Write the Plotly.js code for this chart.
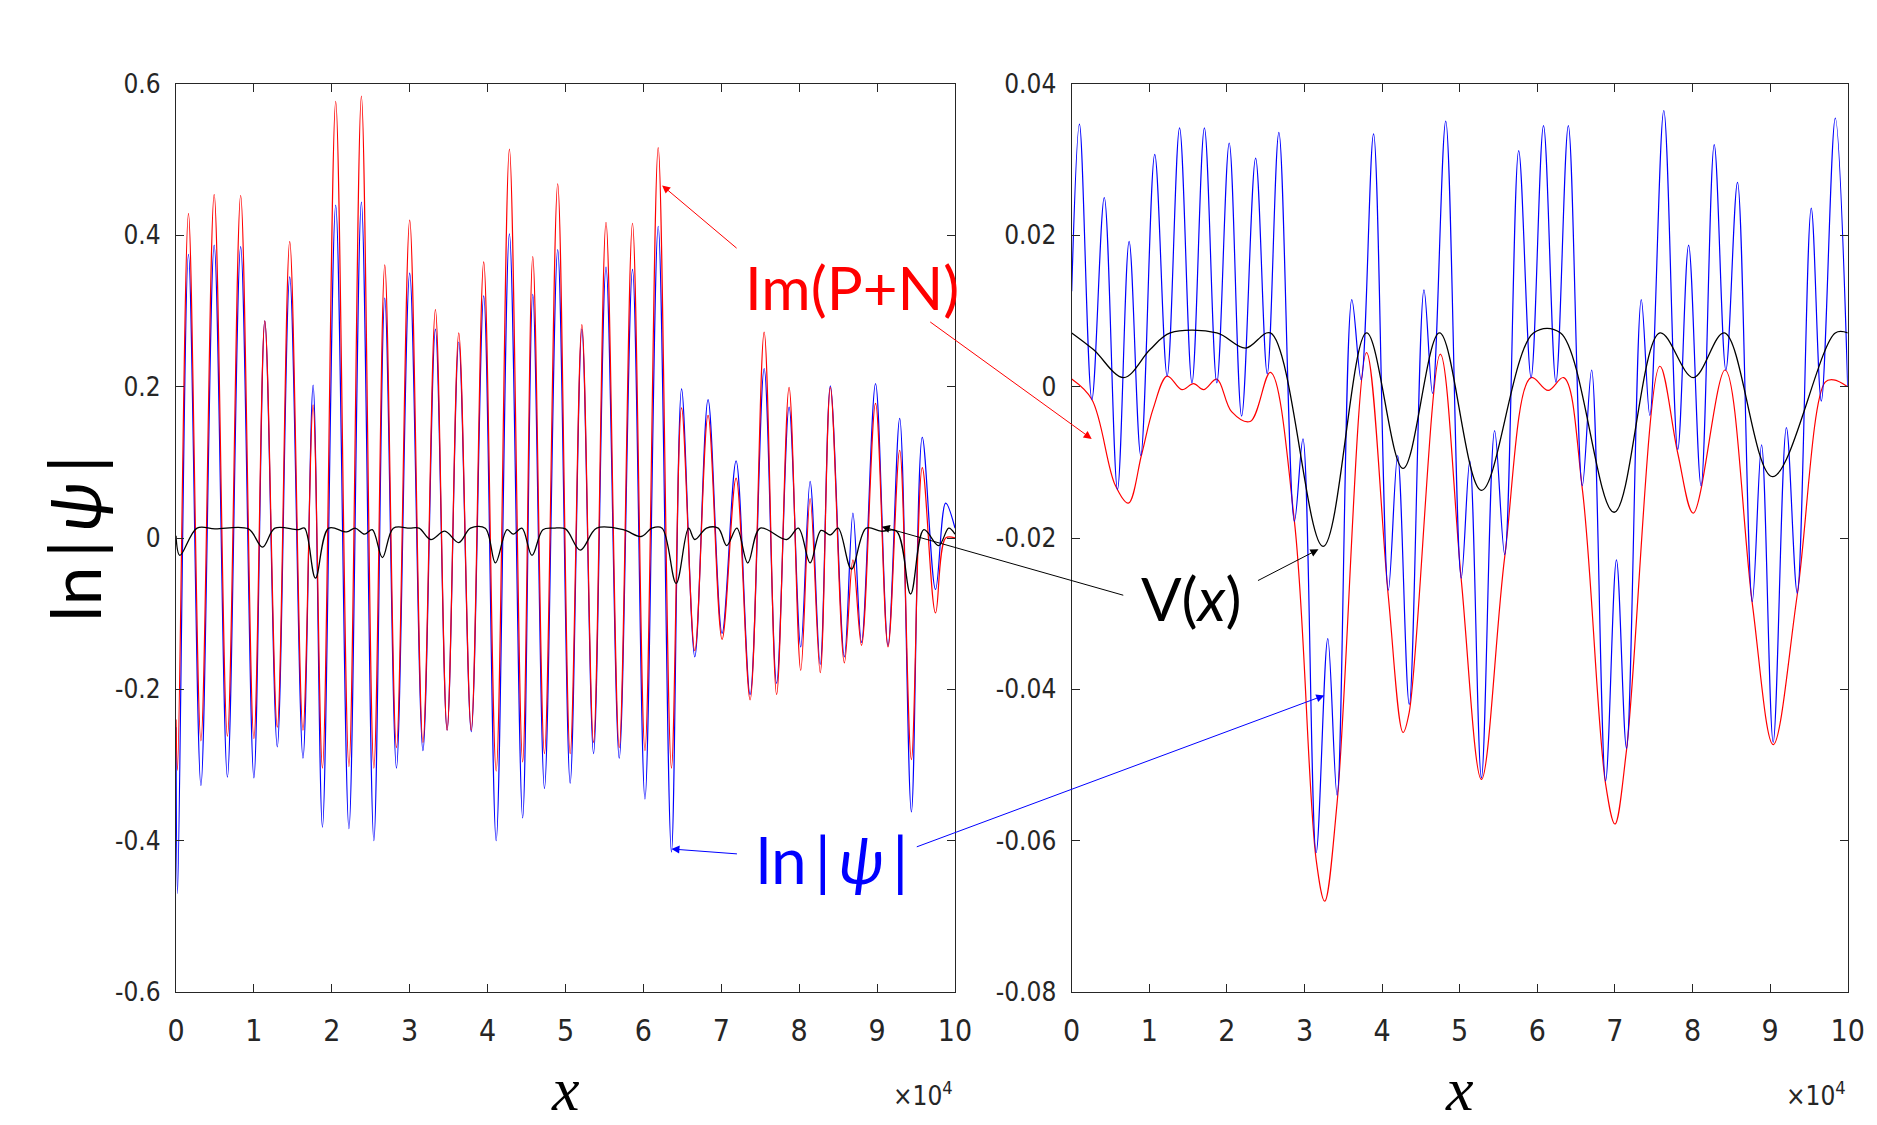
<!DOCTYPE html>
<html>
<head>
<meta charset="utf-8">
<script src="https://cdn.plot.ly/plotly-3.0.1.min.js"></script>
<style>html,body{margin:0;padding:0;background:#fff;}#plot{width:1877px;height:1125px;}</style>
</head>
<body>
<div id="plot"></div>
<script>
// ---------- data (x in units of 1e4) ----------
// Left panel: extrema of ln|psi| (blue) and Im(P+N) (red), shared x positions
const leftX = [0.0,0.02,0.16,0.32,0.49,0.66,0.83,1.0,1.14,1.30,1.46,1.63,1.76,1.88,2.05,2.22,2.38,2.54,2.68,2.83,3.0,3.17,3.33,3.48,3.63,3.79,3.95,4.11,4.28,4.45,4.58,4.73,4.90,5.06,5.21,5.36,5.52,5.69,5.86,6.02,6.19,6.36,6.49,6.66,6.83,7.01,7.19,7.37,7.55,7.71,7.87,8.02,8.14,8.27,8.40,8.58,8.69,8.80,8.98,9.14,9.29,9.44,9.58,9.75,9.88,10.0];
const leftRed = [-0.24,-0.307,0.429,-0.268,0.454,-0.262,0.453,-0.265,0.287,-0.25,0.392,-0.254,0.176,-0.304,0.577,-0.302,0.584,-0.304,0.361,-0.277,0.42,-0.27,0.302,-0.254,0.271,-0.254,0.365,-0.308,0.514,-0.296,0.372,-0.285,0.468,-0.285,0.282,-0.27,0.417,-0.277,0.416,-0.281,0.516,-0.304,0.172,-0.149,0.162,-0.134,0.079,-0.214,0.272,-0.207,0.199,-0.175,0.052,-0.178,0.199,-0.165,-0.029,-0.142,0.178,-0.144,0.116,-0.293,0.093,-0.099,0.0,0.0];
const leftBlue = [-0.25,-0.47,0.375,-0.327,0.387,-0.316,0.385,-0.317,0.287,-0.276,0.345,-0.291,0.202,-0.382,0.44,-0.384,0.444,-0.40,0.317,-0.304,0.35,-0.281,0.276,-0.254,0.259,-0.256,0.32,-0.40,0.402,-0.37,0.322,-0.331,0.381,-0.324,0.276,-0.285,0.358,-0.291,0.355,-0.345,0.412,-0.415,0.197,-0.157,0.183,-0.126,0.102,-0.207,0.224,-0.192,0.173,-0.144,0.075,-0.167,0.201,-0.157,0.033,-0.138,0.204,-0.142,0.158,-0.362,0.133,-0.068,0.046,0.013];
// Left panel potential V(x)
const leftVX = [0.0,0.05,0.27,0.5,0.93,1.11,1.27,1.57,1.65,1.79,1.96,2.19,2.3,2.42,2.52,2.65,2.79,3.0,3.12,3.27,3.45,3.63,3.78,3.97,4.10,4.25,4.33,4.44,4.57,4.71,4.85,5.0,5.19,5.40,5.74,5.97,6.11,6.24,6.42,6.58,6.66,6.81,6.96,7.07,7.2,7.34,7.50,7.84,7.99,8.14,8.28,8.4,8.5,8.67,8.86,9.05,9.25,9.43,9.6,9.79,9.92,10.0];
const leftV = [0.003,-0.023,0.013,0.012,0.012,-0.012,0.013,0.011,0.013,-0.053,0.013,0.008,0.013,0.005,0.011,-0.026,0.013,0.013,0.013,-0.002,0.009,-0.006,0.013,0.013,-0.033,0.011,0.005,0.013,-0.023,0.011,0.013,0.012,-0.016,0.013,0.011,0.002,0.013,0.013,-0.06,0.013,-0.002,0.013,0.013,-0.01,0.013,-0.033,0.013,-0.002,0.013,-0.033,0.01,0.004,0.013,-0.041,0.013,0.009,0.009,-0.074,0.011,-0.01,0.013,0.005];

// Right panel: ln|psi| (blue)
const rightBlueX = [0.0,0.10,0.26,0.42,0.59,0.74,0.89,1.07,1.23,1.39,1.55,1.71,1.87,2.03,2.19,2.37,2.52,2.67,2.87,2.98,3.15,3.30,3.42,3.61,3.73,3.89,4.08,4.20,4.35,4.54,4.65,4.82,5.02,5.13,5.28,5.45,5.58,5.76,5.92,6.08,6.24,6.40,6.58,6.70,6.88,7.02,7.15,7.34,7.45,7.63,7.81,7.95,8.11,8.28,8.43,8.58,8.77,8.89,9.04,9.21,9.35,9.53,9.66,9.84,10.0];
const rightBlue = [0.0126,0.0347,-0.0017,0.025,-0.0136,0.0192,-0.0091,0.0307,0.0014,0.0342,0.0005,0.0342,0.0005,0.0322,-0.0039,0.0302,0.0017,0.0336,-0.0178,-0.0069,-0.0616,-0.0333,-0.054,0.0115,0.0009,0.0334,-0.0269,-0.0091,-0.042,0.0128,-0.0009,0.0351,-0.0253,-0.0098,-0.0517,-0.0058,-0.0222,0.0312,0.0012,0.0345,0.0006,0.0345,-0.0131,0.0022,-0.0521,-0.0229,-0.0478,0.0115,-0.0038,0.0365,-0.0083,0.0187,-0.0131,0.032,0.0022,0.027,-0.0284,-0.0077,-0.047,-0.0054,-0.0273,0.0236,-0.0019,0.0355,0.0];
// Right panel: Im(P+N) (red)
const rightRedX = [0.0,0.26,0.56,0.73,0.90,1.05,1.23,1.42,1.57,1.70,1.87,2.06,2.3,2.56,2.87,3.15,3.26,3.42,3.80,4.08,4.27,4.35,4.75,5.02,5.28,5.58,5.92,6.14,6.34,6.58,6.88,7.0,7.15,7.58,7.81,8.01,8.42,8.77,9.04,9.35,9.71,9.82,10.0];
const rightRed = [0.001,-0.0017,-0.013,-0.0154,-0.009,-0.0029,0.0014,-0.0004,0.0004,-0.0004,0.001,-0.0033,-0.0046,0.0019,-0.0178,-0.0625,-0.068,-0.055,0.0045,-0.0277,-0.0457,-0.043,0.0043,-0.0255,-0.0519,-0.0225,0.0012,-0.0005,0.0012,-0.0135,-0.0525,-0.0578,-0.048,0.0027,-0.0088,-0.0167,0.0022,-0.0286,-0.0473,-0.0275,0.0006,0.0009,0.0];
// Right panel: V(x) (black)
const rightVX = [0.0,0.28,0.67,1.01,1.27,1.87,2.24,2.56,3.24,3.80,4.27,4.74,5.28,5.95,6.30,6.99,7.58,8.01,8.41,9.03,9.84,10.0];
const rightV = [0.0071,0.0049,0.0012,0.0049,0.0071,0.0071,0.0051,0.0071,-0.0211,0.0071,-0.0108,0.0071,-0.0137,0.0071,0.0071,-0.0166,0.0071,0.0012,0.0071,-0.0119,0.0071,0.0071];

// tick labels
const xTickVals = [0,1,2,3,4,5,6,7,8,9,10];
const xTickText = ['0','1','2','3','4','5','6','7','8','9','10'];
const leftYTickVals = [-0.6,-0.4,-0.2,0,0.2,0.4,0.6];
const leftYTickText = ['-0.6','-0.4','-0.2','0','0.2','0.4','0.6'];
const rightYTickVals = [-0.08,-0.06,-0.04,-0.02,0,0.02,0.04];
const rightYTickText = ['-0.08','-0.06','-0.04','-0.02','0','0.02','0.04'];

// ---------- styling ----------
const W = 1877, H = 1125;
const px = v => v / W;
const py = v => 1 - v / H;
const narrow = "'Liberation Sans Narrow', 'Arial Narrow', 'DejaVu Sans Condensed', 'Liberation Sans', sans-serif";
const labelFont = "Lato, 'Noto Sans', 'Open Sans', sans-serif";
const serif = "'Liberation Serif', 'DejaVu Serif', serif";
const axCol = '#262626';
const RED = '#ff0000', BLUE = '#0000ff';
const TS = '\u2009';

function line(x, y, color, xa, ya, w) {
  return {x: x, y: y, xaxis: xa, yaxis: ya, type: 'scatter', mode: 'lines',
          line: {color: color, width: w || 1.2, shape: 'spline', smoothing: 1},
          hoverinfo: 'skip', showlegend: false};
}

const traces = [
  line(leftX, leftBlue, BLUE, 'x', 'y'),
  line(leftX, leftRed, RED, 'x', 'y'),
  line(leftVX, leftV, '#000000', 'x', 'y', 1.3),
  line(rightRedX, rightRed, RED, 'x2', 'y2'),
  line(rightBlueX, rightBlue, BLUE, 'x2', 'y2'),
  line(rightVX, rightV, '#000000', 'x2', 'y2', 1.3)
];

function xax(domain, anchor) {
  return {domain: domain, anchor: anchor, range: [0, 10], tickmode: 'array',
    tickvals: xTickVals, ticktext: xTickText, ticks: 'inside', ticklen: 8, tickcolor: axCol,
    mirror: 'ticks', showline: true, linecolor: axCol, linewidth: 1.2, showgrid: false, zeroline: false,
    tickfont: {family: narrow, size: 30, color: axCol}, ticklabelstandoff: 12};
}
function yax(domain, anchor, range, vals, text) {
  return {domain: domain, anchor: anchor, range: range, tickmode: 'array',
    tickvals: vals, ticktext: text, ticks: 'inside', ticklen: 8, tickcolor: axCol,
    mirror: 'ticks', showline: true, linecolor: axCol, linewidth: 1.2, showgrid: false, zeroline: false,
    tickfont: {family: narrow, size: 26, color: axCol}, ticklabelstandoff: 9};
}

const yDom = [py(992), py(84)];
const layout = {
  width: W, height: H,
  margin: {l: 0, r: 0, t: 0, b: 0},
  paper_bgcolor: '#ffffff', plot_bgcolor: '#ffffff',
  showlegend: false,
  xaxis: xax([px(176), px(955)], 'y'),
  yaxis: yax(yDom, 'x', [-0.6, 0.6], leftYTickVals, leftYTickText),
  xaxis2: xax([px(1071.7), px(1847.7)], 'y2'),
  yaxis2: yax(yDom, 'x2', [-0.08, 0.04], rightYTickVals, rightYTickText),
  annotations: [
    // axis titles
    {xref: 'paper', yref: 'paper', x: px(74), y: py(539), text: 'ln' + TS + '|' + TS + '<i>ψ</i>' + TS + '|', textangle: -90,
     showarrow: false, xanchor: 'center', yanchor: 'middle', font: {family: labelFont, size: 70, color: '#000'}},
    {xref: 'x', yref: 'paper', x: 5, y: 0, text: '<i>x</i>', showarrow: false,
     xanchor: 'center', yanchor: 'bottom', font: {family: serif, size: 62, color: '#000'}},
    {xref: 'x2', yref: 'paper', x: 5, y: 0, text: '<i>x</i>', showarrow: false,
     xanchor: 'center', yanchor: 'bottom', font: {family: serif, size: 62, color: '#000'}},
    {xref: 'x', yref: 'paper', x: 10, y: py(1094), text: '×10<sup>4</sup>', showarrow: false,
     xanchor: 'right', yanchor: 'middle', font: {family: narrow, size: 26, color: axCol}},
    {xref: 'x2', yref: 'paper', x: 10, y: py(1094), text: '×10<sup>4</sup>', showarrow: false,
     xanchor: 'right', yanchor: 'middle', font: {family: narrow, size: 26, color: axCol}},
    // labels
    {xref: 'paper', yref: 'paper', x: px(852), y: py(287), text: 'Im(P+N)', showarrow: false,
     xanchor: 'center', yanchor: 'middle', font: {family: labelFont, size: 60, color: RED}},
    {xref: 'paper', yref: 'paper', x: px(832), y: py(859), text: 'ln' + TS + '|' + TS + '<i>ψ</i>' + TS + '|', showarrow: false,
     xanchor: 'center', yanchor: 'middle', font: {family: labelFont, size: 64, color: BLUE}},
    {xref: 'paper', yref: 'paper', x: px(1191), y: py(598), text: 'V(<i>x</i>)', showarrow: false,
     xanchor: 'center', yanchor: 'middle', font: {family: labelFont, size: 60, color: '#000'}},
    // arrows
    {xref: 'x', yref: 'y', x: 6.24, y: 0.466, ax: 76, ay: 64, text: '', showarrow: true,
     arrowhead: 2, arrowsize: 1.6, arrowwidth: 1, arrowcolor: RED},
    {xref: 'x2', yref: 'y2', x: 0.258, y: -0.0069, ax: -163, ay: -118, text: '', showarrow: true,
     arrowhead: 2, arrowsize: 1.6, arrowwidth: 1, arrowcolor: RED},
    {xref: 'x', yref: 'y', x: 6.36, y: -0.411, ax: 67, ay: 5, text: '', showarrow: true,
     arrowhead: 2, arrowsize: 1.6, arrowwidth: 1, arrowcolor: BLUE},
    {xref: 'x2', yref: 'y2', x: 3.255, y: -0.0408, ax: -409, ay: 152, text: '', showarrow: true,
     arrowhead: 2, arrowsize: 1.6, arrowwidth: 1, arrowcolor: BLUE},
    {xref: 'x', yref: 'y', x: 9.06, y: 0.015, ax: 243, ay: 69, text: '', showarrow: true,
     arrowhead: 2, arrowsize: 1.6, arrowwidth: 1, arrowcolor: '#000'},
    {xref: 'x2', yref: 'y2', x: 3.18, y: -0.0215, ax: -62, ay: 32, text: '', showarrow: true,
     arrowhead: 2, arrowsize: 1.6, arrowwidth: 1, arrowcolor: '#000'}
  ]
};

Plotly.newPlot('plot', traces, layout, {staticPlot: true, displayModeBar: false});
</script>
</body>
</html>
